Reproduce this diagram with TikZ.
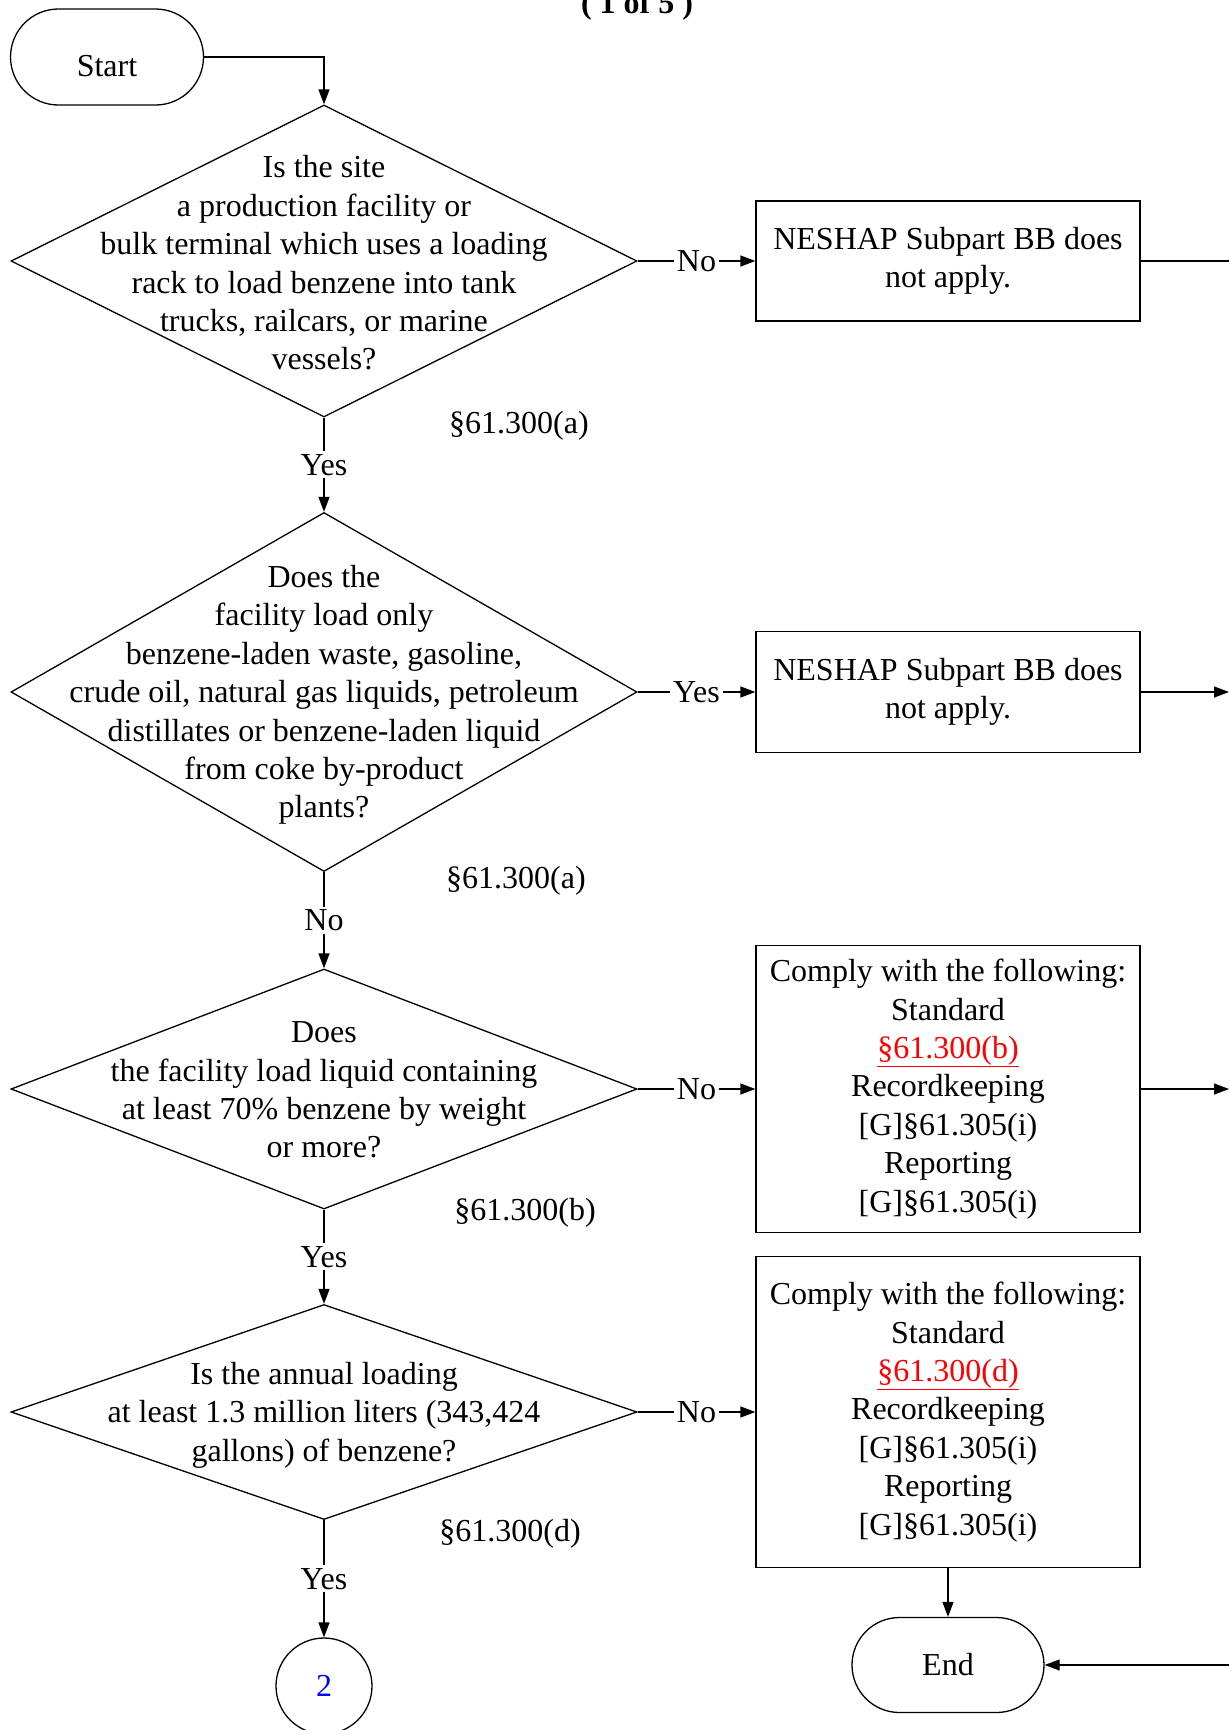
\documentclass[tikz,border=0pt]{standalone}
\usepackage{fontspec}
\setmainfont{Liberation Serif}
\usetikzlibrary{shapes.geometric,shapes.misc,arrows.meta}
\begin{document}
\begin{tikzpicture}[x=1pt,y=-1pt,
  every node/.style={font=\fontsize{32}{38.4}\selectfont},
  line/.style={line width=1.3pt, draw=black},
  arr/.style={line, -{Triangle[length=15pt,width=11pt]}},
  dec/.style={diamond, draw, line width=1.3pt, minimum width=626pt, inner sep=0pt},
  qtext/.style={align=center, inner sep=0pt},
  box/.style={rectangle, draw, line width=1.3pt, minimum width=384pt, align=center, inner sep=0pt},
  term/.style={rounded rectangle, draw, line width=1.3pt, minimum width=193pt, minimum height=96pt, inner sep=0pt},
  lbl/.style={fill=white, inner sep=3pt},
  cite/.style={inner sep=0pt}
]
\useasboundingbox (0,0) rectangle (1229,1730);

\node[font=\bfseries\fontsize{32}{38.4}\selectfont, anchor=base] (title) at (637,13) {( 1 of 5 )};

\node[term, text height=38pt, text depth=0pt] (start) at (107,57) {Start};

% decisions
\node[dec, minimum height=312pt] (d1) at (324,261) {};
\node[qtext] (d1t) at (324,263) {Is the site\\a production facility or\\bulk terminal which uses a loading\\rack to load benzene into tank\\trucks, railcars, or marine\\vessels?};
\node[cite] (d1r) at (519,426) {§61.300(a)};

\node[dec, minimum height=359pt] (d2) at (324,692) {};
\node[qtext] (d2t) at (324,695) {Does the\\facility load only\\benzene-laden waste, gasoline,\\crude oil, natural gas liquids, petroleum\\distillates or benzene-laden liquid\\from coke by-product\\plants?};
\node[cite] (d2r) at (516,881) {§61.300(a)};

\node[dec, minimum height=240pt] (d3) at (324,1089) {};
\node[qtext] (d3t) at (324,1090) {Does\\the facility load liquid containing\\at least 70\% benzene by weight\\or more?};
\node[cite] (d3r) at (525,1213) {§61.300(b)};

\node[dec, minimum height=215pt] (d4) at (324,1412) {};
\node[qtext] (d4t) at (324,1415) {Is the annual loading\\at least 1.3 million liters (343,424\\gallons) of benzene?};
\node[cite] (d4r) at (510,1534) {§61.300(d)};

% result boxes
\node[box, minimum height=120pt] (b1) at (948,261) {NESHAP Subpart BB does\\not apply.};
\node[box, minimum height=121pt] (b2) at (948,692) {NESHAP Subpart BB does\\not apply.};
\node[box, minimum height=287pt] (b3) at (948,1089) {Comply with the following:\\Standard\\\textcolor{red}{\underline{§61.300(b)}}\\Recordkeeping\\{[G]§61.305(i)}\\Reporting\\{[G]§61.305(i)}};
\node[box, minimum height=311pt] (b4) at (948,1412) {Comply with the following:\\Standard\\\textcolor{red}{\underline{§61.300(d)}}\\Recordkeeping\\{[G]§61.305(i)}\\Reporting\\{[G]§61.305(i)}};

\node[term, minimum width=192pt, minimum height=95pt] (end) at (948,1665) {End};
\node[circle, draw, line width=1.3pt, minimum size=96pt, inner sep=0pt, text=blue] (p2) at (324,1686) {2};

% off-page ends
\coordinate (e1) at (1229,261);
\coordinate (e2) at (1229,692);
\coordinate (e3) at (1229,1089);
\coordinate (e4) at (1229,1665);

% connectors
\draw[arr] (start.east) -| (d1.north);
\draw[arr] (d1.east) -- node[lbl]{No} (b1.west);
\draw[arr] (d1.south) -- node[lbl]{Yes} (d2.north);
\draw[arr] (d2.east) -- node[lbl]{Yes} (b2.west);
\draw[arr] (d2.south) -- node[lbl]{No} (d3.north);
\draw[arr] (d3.east) -- node[lbl]{No} (b3.west);
\draw[arr] (d3.south) -- node[lbl]{Yes} (d4.north);
\draw[arr] (d4.east) -- node[lbl]{No} (b4.west);
\draw[arr] (d4.south) -- node[lbl]{Yes} (p2.north);

\draw[line] (b1.east) -- (e1);
\draw[arr] (b2.east) -- (e2);
\draw[arr] (b3.east) -- (e3);
\draw[arr] (b4.south) -- (end.north);
\draw[arr] (e4) -- (end.east);
\end{tikzpicture}
\end{document}
